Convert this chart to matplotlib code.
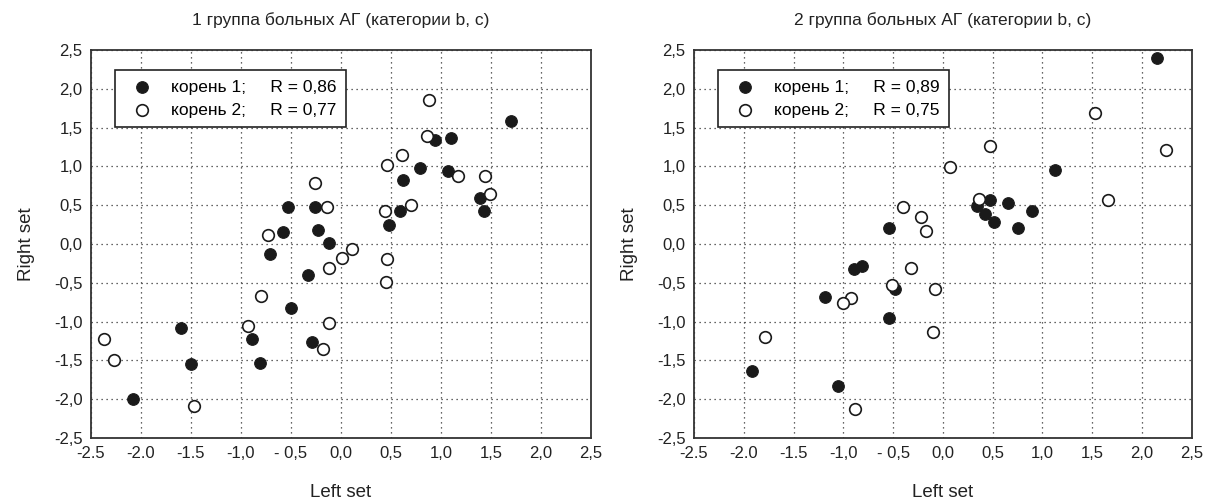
import matplotlib
matplotlib.use('Agg')
import matplotlib.pyplot as plt

plt.rcParams['font.family'] = ['Liberation Sans', 'DejaVu Sans']

# Group 1 data (root 1 = filled, root 2 = open)
g1_root1_x = [-0.53, -0.26, -0.58, -0.23, -0.12, -0.71, -0.33, -0.50, -0.89, -0.29, -0.81, -1.60,
              -1.50, -2.08, 1.70, 0.94, 1.10, 0.79, 1.07, 0.62, 1.39, 1.43, 0.59, 0.48]
g1_root1_y = [0.47, 0.47, 0.16, 0.18, 0.01, -0.13, -0.40, -0.83, -1.23, -1.26, -1.53, -1.08,
              -1.55, -2.00, 1.59, 1.34, 1.37, 0.98, 0.94, 0.83, 0.59, 0.43, 0.42, 0.24]
g1_root2_x = [-0.26, -0.14, -0.73, 0.11, 0.01, -0.12, -0.80, -0.93, -0.12, -0.18, -1.47, -2.37,
              -2.27, 0.88, 0.86, 0.61, 0.46, 1.17, 1.44, 1.49, 0.44, 0.70, 0.46, 0.45]
g1_root2_y = [0.78, 0.47, 0.12, -0.07, -0.18, -0.31, -0.67, -1.06, -1.02, -1.36, -2.09, -1.23,
              -1.50, 1.85, 1.39, 1.14, 1.02, 0.88, 0.87, 0.64, 0.43, 0.50, -0.19, -0.49]

# Group 2 data
g2_root1_x = [-0.54, 2.15, 1.13, 0.34, 0.47, 0.65, 0.90, 0.42, 0.51, 0.76, -0.89, -0.81,
              -0.48, -1.18, -0.54, -1.92, -1.05]
g2_root1_y = [0.20, 2.40, 0.955, 0.49, 0.56, 0.53, 0.43, 0.38, 0.28, 0.20, -0.32, -0.29,
              -0.58, -0.68, -0.95, -1.64, -1.83]
g2_root2_x = [-0.40, -0.22, -0.17, 1.53, 2.24, 0.47, 0.07, 1.66, 0.36, -0.32, -0.51, -0.08,
              -0.92, -1.00, -0.10, -1.79, -0.88]
g2_root2_y = [0.47, 0.35, 0.17, 1.69, 1.21, 1.265, 0.99, 0.57, 0.58, -0.31, -0.53, -0.585,
              -0.70, -0.76, -1.14, -1.20, -2.13]

titles = ['1 группа больных АГ (категории b, c)', '2 группа больных АГ (категории b, c)']
r_values = [('0,86', '0,77'), ('0,89', '0,75')]

ticks = [-2.5, -2.0, -1.5, -1.0, -0.5, 0.0, 0.5, 1.0, 1.5, 2.0, 2.5]
xtick_labels = ['-2.5', '-2.0', '-1.5', '-1,0', '- 0,5', '0,0', '0,5', '1,0', '1,5', '2,0', '2,5']
ytick_labels = ['-2,5', '-2,0', '-1,5', '-1,0', '-0,5', '0,0', '0,5', '1,0', '1,5', '2,0', '2,5']

fig = plt.figure(figsize=(12.08, 5.04), dpi=100)
ax1 = fig.add_axes([0.0753, 0.131, 0.414, 0.770])
ax2 = fig.add_axes([0.5745, 0.131, 0.412, 0.770])

data = [(g1_root1_x, g1_root1_y, g1_root2_x, g1_root2_y),
        (g2_root1_x, g2_root1_y, g2_root2_x, g2_root2_y)]

for ax, (x1, y1, x2, y2), title, (r1, r2) in zip([ax1, ax2], data, titles, r_values):
    ax.scatter(x1, y1, s=70, c='#1a1a1a', edgecolors='#1a1a1a', linewidths=0.8, zorder=3,
               label='корень 1;     R = ' + r1)
    ax.scatter(x2, y2, s=70, c='white', edgecolors='#1a1a1a', linewidths=1.2, zorder=3,
               label='корень 2;     R = ' + r2)
    ax.set_xlim(-2.5, 2.5)
    ax.set_ylim(-2.5, 2.5)
    ax.set_xticks(ticks)
    ax.set_xticklabels(xtick_labels)
    ax.set_yticks(ticks)
    ax.set_yticklabels(ytick_labels)
    ax.tick_params(length=0, labelsize=12, pad=6, colors='#222222')
    ax.grid(True, linestyle=(0, (1, 3)), color='#333333', linewidth=0.9)
    ax.set_axisbelow(True)
    for sp in ax.spines.values():
        sp.set_color('#333333')
        sp.set_linewidth(1.3)
    ax.set_title(title, fontsize=12.5, pad=18, color='#222222')
    ax.set_xlabel('Left set', fontsize=13.5, labelpad=16, color='#222222')
    ax.set_ylabel('Right set', fontsize=13.5, labelpad=14, color='#222222')
    leg = ax.legend(loc='upper left', bbox_to_anchor=(0.048, 0.948), fontsize=12.5, frameon=True,
                    fancybox=False, edgecolor='#222222', framealpha=1, borderpad=0.55,
                    handletextpad=0.7, labelspacing=0.45, borderaxespad=0.0, markerscale=1.0)
    leg.get_frame().set_linewidth(1.2)

fig.savefig('out.png', dpi=100)
